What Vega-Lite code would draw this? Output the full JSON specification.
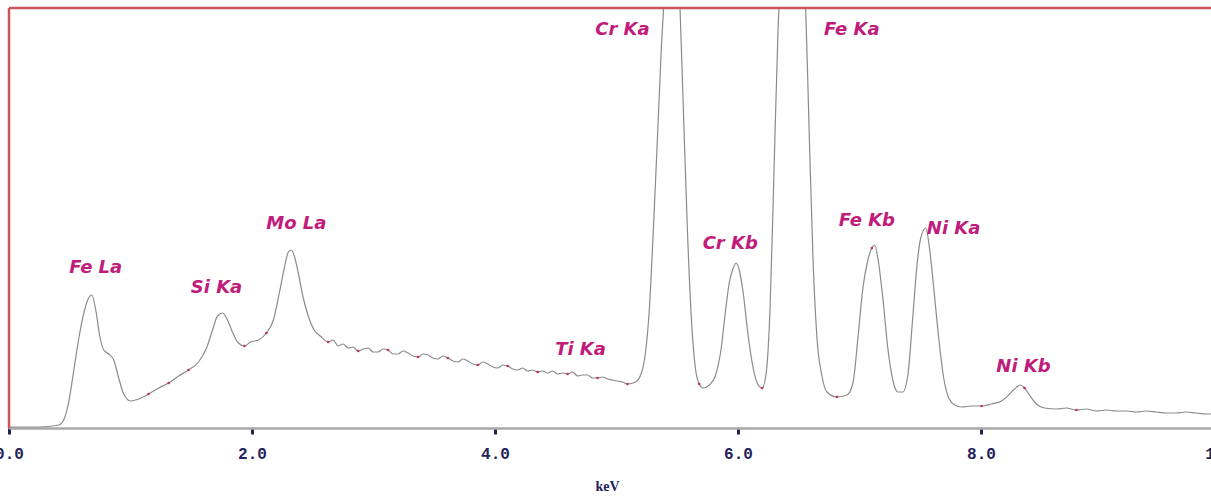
{
  "$schema": "https://vega.github.io/schema/vega-lite/v6.json",
  "autosize": {"type": "none"},
  "width": 1215,
  "height": 420,
  "padding": {"left": 9, "top": 8, "right": 0, "bottom": 70},
  "background": "white",
  "config": {"view": {"stroke": null}},
  "datasets": {
    "spectrum": [
      {"keV": 0.0, "counts": 1}, {"keV": 0.246, "counts": 1}, {"keV": 0.41, "counts": 3}, {"keV": 0.45, "counts": 8},
      {"keV": 0.49, "counts": 25}, {"keV": 0.53, "counts": 55}, {"keV": 0.575, "counts": 90}, {"keV": 0.616, "counts": 115},
      {"keV": 0.648, "counts": 128}, {"keV": 0.681, "counts": 133}, {"keV": 0.714, "counts": 118}, {"keV": 0.747, "counts": 92},
      {"keV": 0.78, "counts": 78}, {"keV": 0.821, "counts": 74}, {"keV": 0.862, "counts": 68}, {"keV": 0.903, "counts": 50},
      {"keV": 0.944, "counts": 34}, {"keV": 1.002, "counts": 27}, {"keV": 1.067, "counts": 29}, {"keV": 1.149, "counts": 34},
      {"keV": 1.232, "counts": 40}, {"keV": 1.314, "counts": 45}, {"keV": 1.396, "counts": 52}, {"keV": 1.478, "counts": 58},
      {"keV": 1.56, "counts": 66}, {"keV": 1.626, "counts": 80}, {"keV": 1.675, "counts": 98}, {"keV": 1.716, "counts": 112},
      {"keV": 1.757, "counts": 115}, {"keV": 1.798, "counts": 108}, {"keV": 1.839, "counts": 96}, {"keV": 1.888, "counts": 85},
      {"keV": 1.938, "counts": 82}, {"keV": 1.987, "counts": 86}, {"keV": 2.053, "counts": 88}, {"keV": 2.118, "counts": 95},
      {"keV": 2.176, "counts": 108}, {"keV": 2.225, "counts": 135}, {"keV": 2.266, "counts": 160}, {"keV": 2.299, "counts": 176},
      {"keV": 2.323, "counts": 178}, {"keV": 2.348, "counts": 172}, {"keV": 2.381, "counts": 155}, {"keV": 2.422, "counts": 130},
      {"keV": 2.463, "counts": 112}, {"keV": 2.512, "counts": 98}, {"keV": 2.562, "counts": 92}, {"keV": 2.627, "counts": 86},
      {"keV": 2.668, "counts": 88}, {"keV": 2.709, "counts": 82}, {"keV": 2.75, "counts": 84}, {"keV": 2.791, "counts": 80},
      {"keV": 2.832, "counts": 81}, {"keV": 2.874, "counts": 77}, {"keV": 2.915, "counts": 79}, {"keV": 2.956, "counts": 80},
      {"keV": 2.997, "counts": 76}, {"keV": 3.038, "counts": 76}, {"keV": 3.079, "counts": 79}, {"keV": 3.12, "counts": 78},
      {"keV": 3.161, "counts": 74}, {"keV": 3.202, "counts": 74}, {"keV": 3.243, "counts": 77}, {"keV": 3.284, "counts": 75},
      {"keV": 3.325, "counts": 72}, {"keV": 3.366, "counts": 71}, {"keV": 3.407, "counts": 74}, {"keV": 3.448, "counts": 73},
      {"keV": 3.489, "counts": 70}, {"keV": 3.53, "counts": 69}, {"keV": 3.571, "counts": 72}, {"keV": 3.612, "counts": 70},
      {"keV": 3.653, "counts": 67}, {"keV": 3.695, "counts": 66}, {"keV": 3.736, "counts": 69}, {"keV": 3.777, "counts": 67},
      {"keV": 3.818, "counts": 64}, {"keV": 3.859, "counts": 63}, {"keV": 3.9, "counts": 66}, {"keV": 3.941, "counts": 64},
      {"keV": 3.982, "counts": 61}, {"keV": 4.023, "counts": 60}, {"keV": 4.064, "counts": 63}, {"keV": 4.105, "counts": 62},
      {"keV": 4.146, "counts": 59}, {"keV": 4.187, "counts": 58}, {"keV": 4.228, "counts": 60}, {"keV": 4.269, "counts": 57},
      {"keV": 4.31, "counts": 58}, {"keV": 4.351, "counts": 56}, {"keV": 4.392, "counts": 57}, {"keV": 4.433, "counts": 55},
      {"keV": 4.474, "counts": 57}, {"keV": 4.516, "counts": 54}, {"keV": 4.557, "counts": 55}, {"keV": 4.598, "counts": 54},
      {"keV": 4.639, "counts": 56}, {"keV": 4.68, "counts": 52}, {"keV": 4.721, "counts": 53}, {"keV": 4.762, "counts": 53},
      {"keV": 4.803, "counts": 50}, {"keV": 4.844, "counts": 50}, {"keV": 4.885, "counts": 51}, {"keV": 4.926, "counts": 49},
      {"keV": 4.967, "counts": 48}, {"keV": 5.008, "counts": 47}, {"keV": 5.049, "counts": 46}, {"keV": 5.09, "counts": 44},
      {"keV": 5.156, "counts": 46}, {"keV": 5.205, "counts": 55},
      {"keV": 5.238, "counts": 75}, {"keV": 5.271, "counts": 120}, {"keV": 5.304, "counts": 200}, {"keV": 5.337, "counts": 290},
      {"keV": 5.369, "counts": 380}, {"keV": 5.402, "counts": 450}, {"keV": 5.46, "counts": 560}, {"keV": 5.517, "counts": 440},
      {"keV": 5.55, "counts": 320}, {"keV": 5.583, "counts": 200}, {"keV": 5.616, "counts": 110}, {"keV": 5.649, "counts": 60},
      {"keV": 5.681, "counts": 44}, {"keV": 5.714, "counts": 40}, {"keV": 5.764, "counts": 43}, {"keV": 5.813, "counts": 52},
      {"keV": 5.862, "counts": 80}, {"keV": 5.895, "counts": 115}, {"keV": 5.928, "counts": 145}, {"keV": 5.961, "counts": 160},
      {"keV": 5.985, "counts": 165}, {"keV": 6.01, "counts": 158}, {"keV": 6.043, "counts": 135}, {"keV": 6.076, "counts": 100},
      {"keV": 6.117, "counts": 65}, {"keV": 6.158, "counts": 45}, {"keV": 6.199, "counts": 40}, {"keV": 6.232, "counts": 55},
      {"keV": 6.264, "counts": 120}, {"keV": 6.297, "counts": 260}, {"keV": 6.33, "counts": 400}, {"keV": 6.363, "counts": 470},
      {"keV": 6.453, "counts": 600}, {"keV": 6.552, "counts": 440}, {"keV": 6.585, "counts": 300}, {"keV": 6.617, "counts": 170},
      {"keV": 6.65, "counts": 90}, {"keV": 6.691, "counts": 52}, {"keV": 6.732, "counts": 36}, {"keV": 6.814, "counts": 31},
      {"keV": 6.897, "counts": 33}, {"keV": 6.946, "counts": 45}, {"keV": 6.987, "counts": 90}, {"keV": 7.028, "counts": 140},
      {"keV": 7.069, "counts": 168}, {"keV": 7.102, "counts": 180}, {"keV": 7.126, "counts": 183}, {"keV": 7.151, "counts": 170},
      {"keV": 7.192, "counts": 130}, {"keV": 7.233, "counts": 80}, {"keV": 7.274, "counts": 48}, {"keV": 7.315, "counts": 36},
      {"keV": 7.356, "counts": 36}, {"keV": 7.397, "counts": 52}, {"keV": 7.438, "counts": 110}, {"keV": 7.471, "counts": 160},
      {"keV": 7.504, "counts": 190}, {"keV": 7.545, "counts": 200}, {"keV": 7.578, "counts": 178}, {"keV": 7.611, "counts": 140},
      {"keV": 7.652, "counts": 90}, {"keV": 7.693, "counts": 50}, {"keV": 7.734, "counts": 30}, {"keV": 7.783, "counts": 23},
      {"keV": 7.841, "counts": 21}, {"keV": 7.923, "counts": 22}, {"keV": 8.005, "counts": 22}, {"keV": 8.087, "counts": 24},
      {"keV": 8.169, "counts": 27}, {"keV": 8.227, "counts": 33}, {"keV": 8.276, "counts": 39}, {"keV": 8.325, "counts": 43},
      {"keV": 8.358, "counts": 40}, {"keV": 8.399, "counts": 33}, {"keV": 8.456, "counts": 24}, {"keV": 8.522, "counts": 20},
      {"keV": 8.621, "counts": 19}, {"keV": 8.703, "counts": 20}, {"keV": 8.785, "counts": 18}, {"keV": 8.867, "counts": 19},
      {"keV": 8.949, "counts": 17}, {"keV": 9.031, "counts": 18}, {"keV": 9.113, "counts": 17}, {"keV": 9.195, "counts": 17},
      {"keV": 9.278, "counts": 16}, {"keV": 9.36, "counts": 17}, {"keV": 9.442, "counts": 16}, {"keV": 9.524, "counts": 15},
      {"keV": 9.606, "counts": 15}, {"keV": 9.688, "counts": 16}, {"keV": 9.77, "counts": 15}, {"keV": 9.86, "counts": 14},
      {"keV": 10.0, "counts": 14}
    ],
    "markers": [
      {"keV": 1.149, "counts": 34}, {"keV": 1.314, "counts": 45}, {"keV": 1.478, "counts": 58}, {"keV": 1.938, "counts": 82},
      {"keV": 2.118, "counts": 95}, {"keV": 2.627, "counts": 86}, {"keV": 2.874, "counts": 77}, {"keV": 3.12, "counts": 78},
      {"keV": 3.366, "counts": 71}, {"keV": 3.612, "counts": 70}, {"keV": 3.859, "counts": 63}, {"keV": 4.105, "counts": 62},
      {"keV": 4.351, "counts": 56}, {"keV": 4.598, "counts": 54}, {"keV": 4.844, "counts": 50}, {"keV": 5.09, "counts": 44},
      {"keV": 5.681, "counts": 44}, {"keV": 6.199, "counts": 40}, {"keV": 6.814, "counts": 31}, {"keV": 7.102, "counts": 180},
      {"keV": 8.005, "counts": 22}, {"keV": 8.358, "counts": 40}, {"keV": 8.785, "counts": 18}
    ],
    "peaks": [
      {"keV": 0.714, "counts": 160, "line": "Fe La"},
      {"keV": 1.708, "counts": 140, "line": "Si Ka"},
      {"keV": 2.365, "counts": 204, "line": "Mo La"},
      {"keV": 4.704, "counts": 78, "line": "Ti Ka"},
      {"keV": 5.049, "counts": 398, "line": "Cr Ka"},
      {"keV": 6.937, "counts": 398, "line": "Fe Ka"},
      {"keV": 5.936, "counts": 184, "line": "Cr Kb"},
      {"keV": 7.061, "counts": 207, "line": "Fe Kb"},
      {"keV": 7.775, "counts": 199, "line": "Ni Ka"},
      {"keV": 8.35, "counts": 61, "line": "Ni Kb"}
    ],
    "frame": [{"keV": 0, "counts": 420}]
  },
  "layer": [
    {
      "data": {"name": "spectrum"},
      "mark": {"type": "line", "stroke": "#8e8a8a", "strokeWidth": 1.2, "clip": true, "interpolate": "monotone"},
      "encoding": {
        "x": {"field": "keV", "type": "quantitative", "scale": {"domain": [0, 10], "nice": false},
          "axis": {
            "title": "keV", "values": [0, 2, 4, 6, 8, 10], "format": ".1f",
            "domainColor": "#a8a8a8", "domainWidth": 2.5,
            "tickColor": "#22224a", "tickSize": 6, "tickWidth": 3, "tickOffset": 0,
            "labelFont": "Liberation Mono", "labelFontWeight": "bold", "labelFontSize": 16, "labelColor": "#22225a",
            "labelPadding": 11, "labelFlush": false, "labelOverlap": false,
            "titleFont": "Liberation Serif", "titleFontWeight": "bold", "titleFontSize": 14, "titleColor": "#22225a",
            "titlePadding": 18, "titleX": 598, "grid": false
          }},
        "y": {"field": "counts", "type": "quantitative", "scale": {"domain": [0, 420], "nice": false}, "axis": null}
      }
    },
    {
      "data": {"name": "markers"},
      "mark": {"type": "point", "filled": true, "color": "#c8102e", "size": 7, "opacity": 0.8},
      "encoding": {
        "x": {"field": "keV", "type": "quantitative"},
        "y": {"field": "counts", "type": "quantitative"}
      }
    },
    {
      "data": {"name": "peaks"},
      "mark": {"type": "text", "font": "DejaVu Sans", "fontWeight": "bold", "fontStyle": "italic", "fontSize": 18, "color": "#c01c7c", "align": "center", "baseline": "middle"},
      "encoding": {
        "x": {"field": "keV", "type": "quantitative"},
        "y": {"field": "counts", "type": "quantitative"},
        "text": {"field": "line"}
      }
    },
    {
      "data": {"name": "frame"},
      "mark": {"type": "rule", "color": "#cc5555", "strokeWidth": 2.5},
      "encoding": {"x": {"field": "keV", "type": "quantitative"}}
    },
    {
      "data": {"name": "frame"},
      "mark": {"type": "rule", "color": "#cc5555", "strokeWidth": 2.5},
      "encoding": {"y": {"field": "counts", "type": "quantitative"}}
    }
  ]
}
